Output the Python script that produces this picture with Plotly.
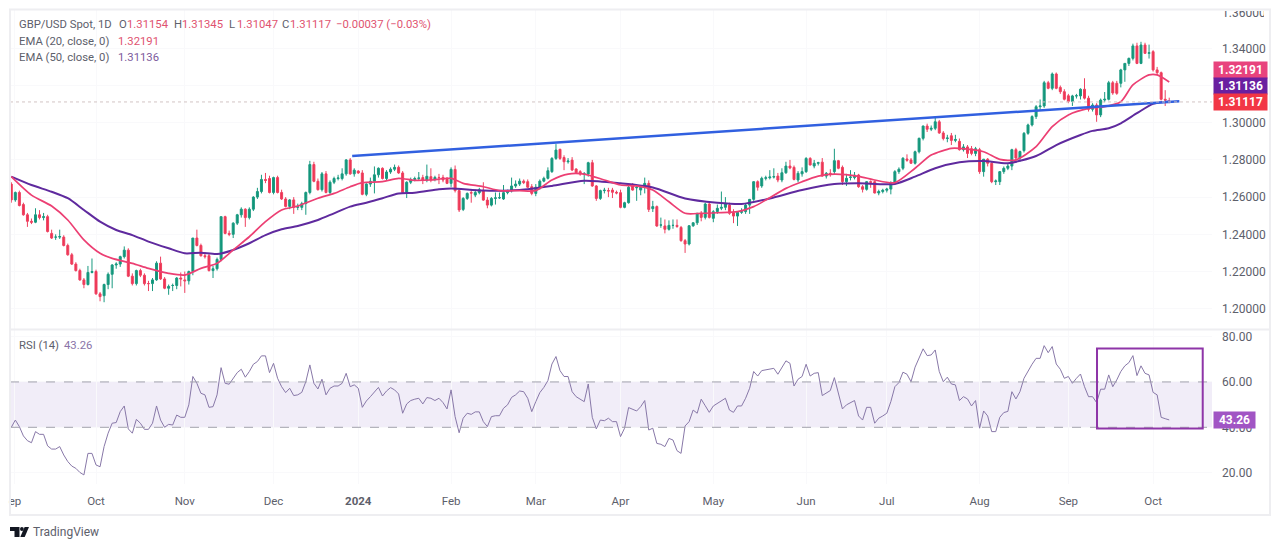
import plotly.graph_objects as go

# the page keeps its 8px body margin, so the figure is that much smaller than the window
PAGE_MARGIN = 8
W, H = 1280 - PAGE_MARGIN, 549 - PAGE_MARGIN

opens = [
    1.2670,1.2585,1.2625,1.2560,1.2505,1.2470,1.2465,1.2505,1.2490,1.2495,
    1.2405,1.2385,1.2385,1.2385,1.2340,1.2290,1.2240,1.2205,1.2155,1.2130,
    1.2195,1.2200,1.2080,1.2070,1.2130,1.2185,1.2235,1.2240,1.2280,1.2315,
    1.2175,1.2135,1.2205,1.2180,1.2135,1.2135,1.2155,1.2245,1.2160,1.2110,
    1.2125,1.2125,1.2165,1.2155,1.2150,1.2200,1.2380,1.2340,1.2285,1.2285,
    1.2205,1.2215,1.2265,1.2495,1.2405,1.2400,1.2460,1.2505,1.2535,1.2490,
    1.2535,1.2600,1.2630,1.2695,1.2700,1.2625,1.2705,1.2625,1.2590,1.2550,
    1.2585,1.2545,1.2545,1.2565,1.2625,1.2775,1.2685,1.2640,1.2725,1.2625,
    1.2680,1.2700,1.2700,1.2725,1.2800,1.2725,1.2740,1.2730,1.2615,1.2670,
    1.2685,1.2720,1.2755,1.2700,1.2735,1.2750,1.2760,1.2730,1.2625,1.2680,
    1.2695,1.2700,1.2705,1.2690,1.2710,1.2695,1.2706,1.2706,1.2701,1.2674,
    1.2749,1.2635,1.2534,1.2593,1.2624,1.2611,1.2624,1.2635,1.2584,1.2557,
    1.2593,1.2596,1.2590,1.2624,1.2635,1.2660,1.2670,1.2686,1.2683,1.2656,
    1.2620,1.2653,1.2686,1.2701,1.2737,1.2808,1.2857,1.2813,1.2790,1.2799,
    1.2751,1.2737,1.2724,1.2724,1.2785,1.2660,1.2593,1.2635,1.2635,1.2638,
    1.2626,1.2624,1.2545,1.2570,1.2660,1.2650,1.2638,1.2653,1.2674,1.2538,
    1.2549,1.2450,1.2445,1.2427,1.2448,1.2448,1.2437,1.2366,1.2348,1.2446,
    1.2462,1.2513,1.2491,1.2563,1.2486,1.2522,1.2540,1.2545,1.2557,1.2516,
    1.2498,1.2518,1.2522,1.2557,1.2588,1.2683,1.2660,1.2701,1.2704,1.2708,
    1.2713,1.2692,1.2731,1.2767,1.2760,1.2692,1.2725,1.2737,1.2808,1.2767,
    1.2782,1.2788,1.2713,1.2728,1.2737,1.2796,1.2760,1.2683,1.2706,1.2705,
    1.2719,1.2656,1.2642,1.2683,1.2683,1.2622,1.2630,1.2637,1.2643,1.2678,
    1.2737,1.2755,1.2805,1.2800,1.2782,1.2844,1.2916,1.2982,1.2965,1.2970,
    1.3005,1.2945,1.2915,1.2930,1.2905,1.2900,1.2855,1.2870,1.2860,1.2835,
    1.2855,1.2737,1.2804,1.2782,1.2683,1.2683,1.2737,1.2755,1.2767,1.2855,
    1.2810,1.2850,1.2943,1.2988,1.3033,1.3086,1.3090,1.3215,1.3185,1.3262,
    1.3190,1.3167,1.3145,1.3115,1.3144,1.3144,1.3180,1.3132,1.3072,1.3095,
    1.3042,1.3122,1.3126,1.3215,1.3212,1.3212,1.3284,1.3319,1.3346,1.3413,
    1.3319,1.3418,1.3373,1.3382,1.3284,1.3269,1.3126,1.31154,
]
highs = [
    1.2680,1.2630,1.2635,1.2570,1.2515,1.2485,1.2540,1.2530,1.2515,1.2505,
    1.2425,1.2400,1.2425,1.2395,1.2350,1.2300,1.2250,1.2215,1.2165,1.2230,
    1.2270,1.2210,1.2090,1.2135,1.2195,1.2240,1.2250,1.2285,1.2335,1.2325,
    1.2190,1.2210,1.2215,1.2190,1.2150,1.2165,1.2255,1.2280,1.2170,1.2130,
    1.2135,1.2170,1.2195,1.2200,1.2205,1.2380,1.2425,1.2350,1.2305,1.2295,
    1.2230,1.2275,1.2495,1.2500,1.2420,1.2465,1.2510,1.2545,1.2540,1.2545,
    1.2605,1.2650,1.2720,1.2730,1.2715,1.2710,1.2715,1.2640,1.2600,1.2590,
    1.2600,1.2565,1.2575,1.2630,1.2795,1.2790,1.2700,1.2735,1.2740,1.2690,
    1.2710,1.2720,1.2755,1.2805,1.2810,1.2755,1.2745,1.2745,1.2675,1.2705,
    1.2765,1.2760,1.2760,1.2745,1.2760,1.2775,1.2770,1.2740,1.2685,1.2705,
    1.2710,1.2735,1.2720,1.2775,1.2755,1.2715,1.2725,1.2720,1.2708,1.2760,
    1.2770,1.2640,1.2600,1.2625,1.2640,1.2640,1.2650,1.2680,1.2600,1.2600,
    1.2625,1.2625,1.2665,1.2640,1.2705,1.2690,1.2700,1.2695,1.2695,1.2670,
    1.2670,1.2695,1.2710,1.2760,1.2815,1.2885,1.2860,1.2825,1.2810,1.2815,
    1.2755,1.2745,1.2735,1.2790,1.2800,1.2665,1.2640,1.2650,1.2650,1.2650,
    1.2635,1.2640,1.2575,1.2660,1.2675,1.2670,1.2665,1.2705,1.2690,1.2580,
    1.2555,1.2490,1.2480,1.2475,1.2480,1.2480,1.2445,1.2375,1.2450,1.2465,
    1.2515,1.2525,1.2570,1.2570,1.2530,1.2560,1.2630,1.2600,1.2570,1.2535,
    1.2525,1.2540,1.2565,1.2590,1.2685,1.2690,1.2710,1.2715,1.2745,1.2755,
    1.2730,1.2755,1.2790,1.2800,1.2770,1.2740,1.2760,1.2815,1.2815,1.2800,
    1.2790,1.2810,1.2735,1.2750,1.2860,1.2800,1.2770,1.2725,1.2745,1.2735,
    1.2725,1.2665,1.2685,1.2690,1.2690,1.2640,1.2645,1.2650,1.2685,1.2745,
    1.2760,1.2815,1.2830,1.2810,1.2850,1.2920,1.2985,1.2995,1.2985,1.3035,
    1.3015,1.2955,1.2935,1.2945,1.2935,1.2915,1.2885,1.2880,1.2875,1.2870,
    1.2865,1.2805,1.2810,1.2790,1.2695,1.2740,1.2765,1.2780,1.2860,1.2865,
    1.2850,1.2950,1.2995,1.3040,1.3095,1.3125,1.3225,1.3225,1.3270,1.3270,
    1.3200,1.3180,1.3155,1.3150,1.3155,1.3185,1.3239,1.3145,1.3105,1.3105,
    1.3130,1.3165,1.3225,1.3225,1.3225,1.3290,1.3320,1.3350,1.3425,1.3430,
    1.3435,1.3430,1.3420,1.3390,1.3300,1.3275,1.3175,1.31345,
]
lows = [
    1.2570,1.2575,1.2550,1.2500,1.2440,1.2455,1.2460,1.2480,1.2475,1.2410,
    1.2375,1.2370,1.2375,1.2335,1.2285,1.2235,1.2200,1.2150,1.2110,1.2125,
    1.2190,1.2075,1.2040,1.2035,1.2105,1.2110,1.2215,1.2225,1.2270,1.2170,
    1.2125,1.2125,1.2170,1.2125,1.2095,1.2095,1.2150,1.2155,1.2105,1.2075,
    1.2095,1.2105,1.2120,1.2085,1.2130,1.2180,1.2335,1.2280,1.2270,1.2200,
    1.2165,1.2205,1.2255,1.2400,1.2390,1.2380,1.2450,1.2490,1.2440,1.2480,
    1.2525,1.2590,1.2620,1.2675,1.2620,1.2615,1.2620,1.2585,1.2545,1.2535,
    1.2510,1.2530,1.2530,1.2505,1.2615,1.2680,1.2635,1.2630,1.2620,1.2615,
    1.2670,1.2690,1.2690,1.2715,1.2720,1.2710,1.2725,1.2610,1.2605,1.2655,
    1.2620,1.2705,1.2695,1.2690,1.2725,1.2740,1.2725,1.2620,1.2595,1.2670,
    1.2685,1.2690,1.2670,1.2680,1.2680,1.2685,1.2670,1.2680,1.2670,1.2655,
    1.2625,1.2520,1.2525,1.2585,1.2570,1.2600,1.2615,1.2580,1.2540,1.2550,
    1.2560,1.2590,1.2585,1.2615,1.2625,1.2650,1.2660,1.2670,1.2650,1.2610,
    1.2605,1.2640,1.2680,1.2695,1.2730,1.2800,1.2800,1.2745,1.2780,1.2740,
    1.2730,1.2715,1.2670,1.2710,1.2655,1.2580,1.2585,1.2620,1.2600,1.2595,
    1.2615,1.2540,1.2540,1.2565,1.2635,1.2580,1.2610,1.2620,1.2520,1.2520,
    1.2440,1.2435,1.2405,1.2420,1.2430,1.2435,1.2360,1.2300,1.2340,1.2440,
    1.2450,1.2470,1.2480,1.2485,1.2465,1.2510,1.2530,1.2530,1.2505,1.2460,
    1.2445,1.2510,1.2510,1.2510,1.2580,1.2635,1.2650,1.2690,1.2695,1.2700,
    1.2680,1.2680,1.2725,1.2750,1.2690,1.2680,1.2710,1.2730,1.2770,1.2755,
    1.2770,1.2710,1.2700,1.2710,1.2720,1.2750,1.2665,1.2660,1.2690,1.2695,
    1.2650,1.2625,1.2635,1.2650,1.2620,1.2610,1.2620,1.2625,1.2615,1.2670,
    1.2725,1.2745,1.2790,1.2780,1.2775,1.2835,1.2905,1.2950,1.2955,1.2960,
    1.2940,1.2905,1.2895,1.2880,1.2895,1.2850,1.2845,1.2810,1.2825,1.2820,
    1.2725,1.2710,1.2765,1.2675,1.2665,1.2665,1.2725,1.2745,1.2745,1.2795,
    1.2790,1.2840,1.2935,1.2980,1.3020,1.3065,1.3080,1.3180,1.3175,1.3180,
    1.3155,1.3120,1.3105,1.3090,1.3130,1.3125,1.3125,1.3060,1.3060,1.3005,
    1.3030,1.3110,1.3120,1.3150,1.3150,1.3190,1.3220,1.3305,1.3335,1.3315,
    1.3315,1.3370,1.3345,1.3275,1.3255,1.3120,1.3090,1.31047,
]
closes = [
    1.2585,1.2625,1.2555,1.2505,1.2470,1.2465,1.2505,1.2490,1.2495,1.2415,
    1.2380,1.2385,1.2388,1.2340,1.2290,1.2240,1.2205,1.2155,1.2130,1.2195,
    1.2200,1.2080,1.2065,1.2130,1.2185,1.2235,1.2240,1.2280,1.2315,1.2175,
    1.2135,1.2205,1.2180,1.2135,1.2135,1.2155,1.2245,1.2160,1.2110,1.2120,
    1.2125,1.2165,1.2160,1.2150,1.2200,1.2380,1.2340,1.2285,1.2280,1.2205,
    1.2215,1.2265,1.2495,1.2405,1.2400,1.2460,1.2505,1.2535,1.2490,1.2535,
    1.2600,1.2630,1.2695,1.2690,1.2625,1.2705,1.2625,1.2590,1.2550,1.2585,
    1.2545,1.2548,1.2565,1.2625,1.2775,1.2685,1.2640,1.2725,1.2625,1.2680,
    1.2700,1.2703,1.2725,1.2800,1.2725,1.2745,1.2730,1.2615,1.2670,1.2685,
    1.2720,1.2755,1.2700,1.2735,1.2750,1.2760,1.2730,1.2625,1.2680,1.2695,
    1.2700,1.2703,1.2690,1.2712,1.2692,1.2706,1.2705,1.2692,1.2674,1.2749,
    1.2635,1.2531,1.2593,1.2620,1.2622,1.2625,1.2640,1.2584,1.2557,1.2593,
    1.2596,1.2597,1.2624,1.2635,1.2660,1.2670,1.2686,1.2678,1.2653,1.2620,
    1.2653,1.2686,1.2701,1.2742,1.2808,1.2853,1.2808,1.2790,1.2794,1.2746,
    1.2731,1.2724,1.2726,1.2785,1.2660,1.2593,1.2635,1.2637,1.2633,1.2626,
    1.2622,1.2545,1.2570,1.2653,1.2638,1.2653,1.2653,1.2674,1.2534,1.2549,
    1.2445,1.2450,1.2427,1.2448,1.2448,1.2442,1.2366,1.2348,1.2446,1.2462,
    1.2513,1.2491,1.2563,1.2491,1.2522,1.2540,1.2545,1.2563,1.2513,1.2498,
    1.2518,1.2522,1.2557,1.2588,1.2683,1.2653,1.2701,1.2704,1.2708,1.2710,
    1.2692,1.2731,1.2767,1.2757,1.2695,1.2728,1.2737,1.2808,1.2773,1.2782,
    1.2785,1.2713,1.2728,1.2725,1.2796,1.2755,1.2683,1.2701,1.2708,1.2718,
    1.2656,1.2642,1.2683,1.2680,1.2622,1.2630,1.2637,1.2643,1.2678,1.2737,
    1.2750,1.2809,1.2798,1.2782,1.2844,1.2916,1.2982,1.2965,1.2970,1.3005,
    1.2945,1.2915,1.2918,1.2905,1.2910,1.2855,1.2870,1.2835,1.2835,1.2860,
    1.2737,1.2804,1.2782,1.2683,1.2687,1.2737,1.2755,1.2767,1.2855,1.2810,
    1.2845,1.2943,1.2988,1.3033,1.3086,1.3090,1.3215,1.3185,1.3262,1.3185,
    1.3167,1.3126,1.3115,1.3144,1.3145,1.3180,1.3132,1.3072,1.3095,1.3042,
    1.3122,1.3126,1.3215,1.3160,1.3158,1.3284,1.3319,1.3346,1.3413,1.3319,
    1.3418,1.3373,1.3376,1.3284,1.3269,1.3126,1.3122,1.31117,
]
rsi_values = [
    40.0,43.2,40.3,36.2,34.1,33.2,38.1,36.9,36.9,31.8,
    30.4,30.4,31.5,27.8,24.9,22.9,21.9,20.1,19.0,28.5,
    28.5,23.4,22.6,31.5,37.4,41.8,42.1,46.9,49.4,39.3,
    37.4,43.5,41.8,39.1,39.1,41.8,49.4,43.2,40.0,41.3,
    41.0,45.4,44.4,44.4,49.9,62.4,59.4,55.0,54.3,48.8,
    49.1,54.3,66.3,59.4,59.0,61.6,64.1,65.6,62.1,64.6,
    67.8,69.0,71.5,71.5,64.1,68.2,61.6,57.9,55.3,57.2,
    54.0,54.3,55.4,60.1,67.5,59.4,56.9,61.2,54.3,57.2,
    58.2,58.2,59.4,63.8,57.9,58.7,57.2,48.8,51.6,53.5,
    55.4,57.6,53.8,56.0,57.5,56.5,54.7,46.2,50.3,51.8,
    52.4,52.8,50.3,53.1,52.8,51.8,52.8,50.9,48.1,56.5,
    44.7,37.6,44.0,46.2,45.7,46.8,46.8,42.5,40.3,44.7,
    45.1,45.1,48.4,49.9,53.2,54.3,56.0,55.7,52.8,46.9,
    51.3,55.3,57.6,60.6,67.9,71.2,65.0,62.4,62.4,55.7,
    53.5,52.5,51.3,59.1,44.4,39.3,43.2,42.9,44.0,42.5,
    42.5,35.9,39.6,48.7,47.9,47.2,49.1,51.8,38.8,39.6,
    32.9,32.5,31.5,35.1,34.4,29.7,28.5,40.6,42.5,47.6,
    46.2,52.4,49.5,46.6,49.4,50.6,51.6,52.8,47.6,46.6,
    49.4,49.4,52.8,57.2,64.6,62.6,65.0,65.4,65.6,66.0,
    63.4,66.5,69.3,68.2,58.2,61.2,62.4,67.8,62.6,63.8,
    64.1,54.0,55.0,56.2,61.9,55.0,48.1,49.9,50.9,51.8,
    45.0,43.2,48.8,48.8,41.8,44.0,45.0,46.2,51.3,57.9,
    59.7,64.3,63.4,60.1,66.5,70.9,74.6,71.6,71.9,74.1,
    64.6,60.1,62.1,59.1,58.7,51.8,53.5,52.5,49.4,51.8,
    39.6,47.2,45.0,38.1,38.1,44.4,46.5,47.0,55.7,52.5,
    55.7,61.6,65.0,67.8,70.4,70.4,76.0,72.9,75.6,67.9,
    65.6,61.6,62.4,59.4,61.6,63.5,57.9,53.5,53.5,50.9,
    56.8,56.8,63.1,57.9,60.9,64.6,67.1,68.5,71.6,62.8,
    67.1,63.8,63.1,55.4,54.3,44.4,43.8,43.26,
]

ema20_bars = [0,5,10,14,18,22,25,30,34,39,43,47,51,55,59,63,67,71,76,80,84,87,92,96,100,104,109,112,117,121,126,130,134,138,142,147,151,155,159,163,167,171,175,180,184,187,192,196,200,204,210,214,219,224,228,233,235,241,245,249,254,258,262,267,271,275,278,282,284,287]
ema20_vals = [1.2710,1.2611,1.2552,1.2477,1.2370,1.2298,1.2271,1.2244,1.2217,1.2190,1.2181,1.2217,1.2244,1.2316,1.2387,1.2468,1.2531,1.2552,1.2594,1.2620,1.2656,1.2678,1.2683,1.2701,1.2690,1.2692,1.2701,1.2674,1.2656,1.2635,1.2635,1.2635,1.2692,1.2724,1.2724,1.2692,1.2665,1.2660,1.2638,1.2575,1.2513,1.2513,1.2516,1.2522,1.2549,1.2584,1.2647,1.2683,1.2713,1.2724,1.2712,1.2692,1.2678,1.2755,1.2826,1.2862,1.2862,1.2844,1.2803,1.2800,1.2871,1.2979,1.3042,1.3077,1.3086,1.3113,1.3203,1.3257,1.3257,1.32191]
ema50_bars = [0,5,10,14,18,22,26,30,34,39,43,47,51,55,59,63,67,71,76,80,84,88,92,96,100,106,109,117,126,134,142,151,159,167,175,181,188,196,204,210,219,224,229,235,241,247,254,259,265,268,272,275,279,283,287]
ema50_vals = [1.2710,1.2665,1.2629,1.2594,1.2531,1.2468,1.2423,1.2396,1.2361,1.2325,1.2298,1.2301,1.2294,1.2316,1.2352,1.2396,1.2427,1.2445,1.2477,1.2513,1.2549,1.2570,1.2594,1.2620,1.2624,1.2642,1.2647,1.2635,1.2638,1.2660,1.2688,1.2674,1.2652,1.2593,1.2570,1.2563,1.2593,1.2638,1.2670,1.2674,1.2671,1.2710,1.2755,1.2787,1.2794,1.2782,1.2821,1.2880,1.2934,1.2956,1.2970,1.2997,1.3051,1.3101,1.31136]
trend_bars = [84.5, 289.5]
trend_vals = [1.2821, 1.3116]

# the first month label is cut by the chart edge in the original, only "ep" shows
month_bars = [0.9,21,43,65,86,109,130,151,174,197,217,240,262,283]
month_labels = ["ep","Oct","Nov","Dec","<b>2024</b>","Feb","Mar","Apr","May","Jun","Jul","Aug","Sep","Oct"]
price_ticks = [1.20,1.22,1.24,1.26,1.28,1.30,1.32,1.34]
rsi_ticks = [20,40,60,80]

last_close = 1.31117
rsi_band = [40, 60]
rsi_box_bars = [269.1, 295.3]
rsi_box_vals = [39.5, 74.7]

GREY = "#5d606b"
PINK = "#e0536f"
FONT = "Roboto"

for name, arr in [("opens",opens),("highs",highs),("lows",lows),("closes",closes),("rsi",rsi_values)]:
    assert len(arr) == 288, f"{name} {len(arr)}"
assert len(ema20_bars) == len(ema20_vals), "ema20"
assert len(ema50_bars) == len(ema50_vals), "ema50"

bars = list(range(288))


def px(x):
    return (x - PAGE_MARGIN) / W


def py(y):
    return 1 - (y - PAGE_MARGIN) / H


candles = go.Candlestick(
    x=bars, open=opens, high=highs, low=lows, close=closes,
    increasing=dict(line=dict(color="#1a9a80", width=1), fillcolor="#0f9478"),
    decreasing=dict(line=dict(color="#ee4060", width=1), fillcolor="#ee3350"),
    xaxis="x", yaxis="y", hoverinfo="skip",
)
ema20 = go.Scatter(x=ema20_bars, y=ema20_vals, mode="lines", xaxis="x", yaxis="y",
                   line=dict(color="#ec3f73", width=1.7, shape="spline", smoothing=0.7), hoverinfo="skip")
ema50 = go.Scatter(x=ema50_bars, y=ema50_vals, mode="lines", xaxis="x", yaxis="y",
                   line=dict(color="#5f2a9e", width=2, shape="spline", smoothing=0.7), hoverinfo="skip")
trend = go.Scatter(x=trend_bars, y=trend_vals, mode="lines", xaxis="x", yaxis="y",
                   line=dict(color="#3160e0", width=2.5), hoverinfo="skip")
rsi = go.Scatter(x=bars, y=rsi_values, mode="lines", xaxis="x2", yaxis="y2",
                 line=dict(color="#8878a8", width=1), hoverinfo="skip")

shapes = [
    dict(type="rect", xref="x2 domain", x0=0, x1=1, yref="y2", y0=rsi_band[0], y1=rsi_band[1],
         fillcolor="rgba(126,87,194,0.11)", line_width=0, layer="below"),
    dict(type="line", xref="x2 domain", x0=0, x1=1, yref="y2", y0=rsi_band[0], y1=rsi_band[0],
         line=dict(color="#a3a3ad", width=1, dash="dash")),
    dict(type="line", xref="x2 domain", x0=0, x1=1, yref="y2", y0=rsi_band[1], y1=rsi_band[1],
         line=dict(color="#a3a3ad", width=1, dash="dash")),
    dict(type="line", xref="x domain", x0=0, x1=1, yref="y", y0=last_close, y1=last_close,
         line=dict(color="#d2c4c4", width=1, dash="dot")),
    dict(type="rect", xref="x2", x0=rsi_box_bars[0], x1=rsi_box_bars[1], yref="y2",
         y0=rsi_box_vals[0], y1=rsi_box_vals[1], line=dict(color="#8e35a8", width=2)),
    # frame
    dict(type="rect", xref="paper", yref="paper", x0=px(10), x1=px(1270), y0=py(515), y1=py(9.5),
         line=dict(color="#eeeef1", width=2), layer="above"),
    dict(type="line", xref="paper", yref="paper", x0=px(10), x1=px(1270), y0=py(329.5), y1=py(329.5),
         line=dict(color="#eeeef1", width=2), layer="above"),
    # TradingView logo
    dict(type="path", xref="paper", yref="paper", fillcolor="#131722", line_width=0,
         path=f"M{px(10)},{py(527)} L{px(19.5)},{py(527)} L{px(19.5)},{py(537)} L{px(14.5)},{py(537)} "
              f"L{px(14.5)},{py(531)} L{px(10)},{py(531)} Z"),
    dict(type="path", xref="paper", yref="paper", fillcolor="#131722", line_width=0,
         path=f"M{px(29)},{py(527)} L{px(24.7)},{py(537)} L{px(20.3)},{py(537)} L{px(24.6)},{py(527)} Z"),
    dict(type="circle", xref="paper", yref="paper", fillcolor="#131722", line_width=0,
         x0=px(20), x1=px(23.8), y0=py(531), y1=py(527)),
]

annotations = []


def label(x, y, text, color=GREY, size=11.3):
    annotations.append(dict(xref="paper", yref="paper", x=px(x), y=py(y), text=text,
                            xanchor="left", yanchor="middle", showarrow=False, borderpad=0,
                            font=dict(family=FONT, size=size, color=color)))


def tag(x, y, width, text, color):
    annotations.append(dict(xref="paper", yref="paper", x=px(x), y=py(y), text=text,
                            xanchor="left", yanchor="middle", showarrow=False,
                            width=width, height=16, align="center", bgcolor=color, borderpad=0,
                            font=dict(family=FONT, size=12, color="white", weight="bold")))


label(18, 25, "GBP/USD Spot, 1D")
for x, head, val in [(118, "O", "1.31154"), (173, "H", "1.31345"), (228, "L", "1.31047"), (281, "C", "1.31117")]:
    label(x, 25, head)
    label(x + 8, 25, val, PINK)
label(335, 25, "\u22120.00037 (\u22120.03%)", PINK)
label(18, 41, "EMA (20, close, 0)")
label(117, 41, "1.32191", PINK)
label(18, 57, "EMA (50, close, 0)")
label(117, 57, "1.31136", "#7d5a9c")
label(18, 345, "RSI (14)")
label(63, 345, "43.26", "#8a74a8")
label(32, 532, "TradingView", GREY, 12)

# top price tick is cut by the chart edge, a short box clips the text the same way
annotations.append(dict(xref="paper", yref="paper", x=px(1221), y=py(10), text="1.36000",
                        xanchor="left", yanchor="top", showarrow=False, borderpad=0,
                        width=42, height=8.5, valign="bottom", align="left",
                        font=dict(family=FONT, size=12, color=GREY)))

tag(1213, 70, 53, "1.32191", "#e8437d")
tag(1213, 86, 53, "1.31136", "#6a1fa0")
tag(1213, 102, 53, "1.31117", "#f23645")
tag(1213, 420, 41, "43.26", "#a155c4")

x_font = dict(family=FONT, size=11.5, color=GREY)
y_font = dict(family=FONT, size=12, color=GREY)
grid = "#f9f9fb"

layout = go.Layout(
    width=W, height=H,
    margin=dict(l=0, r=0, t=0, b=0),
    paper_bgcolor="white", plot_bgcolor="white",
    showlegend=False, hovermode=False,
    xaxis=dict(domain=[px(10), px(1212)], range=[-0.32, 297.6], anchor="y", tickvals=month_bars,
               showticklabels=False, gridcolor=grid, zeroline=False, rangeslider=dict(visible=False)),
    yaxis=dict(domain=[py(329), py(10)], range=[1.1891, 1.3606], side="right", anchor="x",
               tickvals=price_ticks, tickformat=".5f", tickfont=y_font, ticklabelstandoff=9,
               gridcolor=grid, zeroline=False),
    xaxis2=dict(domain=[px(10), px(1212)], range=[-0.32, 297.6], anchor="y2", tickvals=month_bars,
                ticktext=month_labels, tickfont=x_font, ticklabelstandoff=8,
                gridcolor=grid, zeroline=False),
    yaxis2=dict(domain=[py(484), py(330)], range=[15, 82.9], side="right", anchor="x2",
                tickvals=rsi_ticks, tickformat=".2f", tickfont=y_font, ticklabelstandoff=9,
                gridcolor=grid, zeroline=False),
    shapes=shapes, annotations=annotations,
)

fig = go.Figure(data=[candles, ema50, ema20, trend, rsi], layout=layout)
fig.write_html("out.html", config=dict(displayModeBar=False))
